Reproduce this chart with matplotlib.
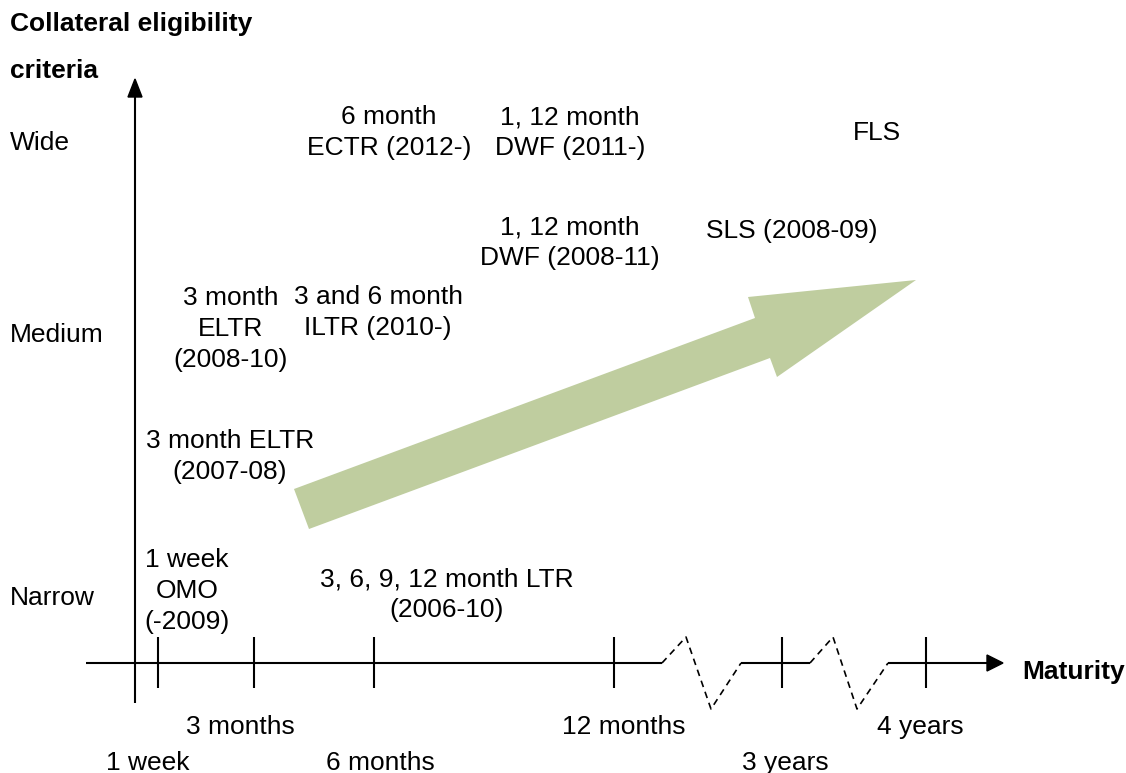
import matplotlib
matplotlib.use("Agg")
import matplotlib.pyplot as plt
from matplotlib.patches import Polygon

plt.rcParams['font.family'] = ['Liberation Sans', 'DejaVu Sans']

W, H = 1126, 773

# ---------------- data ----------------
criteria_levels = ["Wide", "Medium", "Narrow"]
criteria_y = [143, 335, 598]

maturity_labels = ["1 week", "3 months", "6 months", "12 months", "3 years", "4 years"]
maturity_ticks = [158, 254, 374, 614, 782, 926]
maturity_label_x = [148, 240, 380, 624, 785, 920]
maturity_label_row = [1, 0, 1, 0, 1, 0]

facility_labels = [
    "6 month\nECTR (2012-)",
    "1, 12 month\nDWF (2011-)",
    "FLS",
    "1, 12 month\nDWF (2008-11)",
    "SLS (2008-09)",
    "3 month\nELTR\n(2008-10)",
    "3 and 6 month\nILTR (2010-)",
    "3 month ELTR\n(2007-08)",
    "1 week\nOMO\n(-2009)",
    "3, 6, 9, 12 month LTR\n(2006-10)",
]
facility_x = [389, 570, 877, 570, 792, 231, 378, 230, 187, 447]
facility_y = [133, 133, 133, 243, 231, 329, 313, 456, 591, 595]

# -------------- figure ---------------
fig = plt.figure(figsize=(W / 100, H / 100), dpi=100)
ax = fig.add_axes([0, 0, 1, 1])
ax.set_xlim(0, W)
ax.set_ylim(H, 0)
ax.axis('off')

FS = 19
PITCH = 31
LW = 1.5
axis_y = 663

# y axis
ax.plot([135, 135], [703, 96], color='black', lw=LW, solid_capstyle='butt')
ax.add_patch(Polygon([[128, 97], [142, 97], [135, 79]], closed=True, color='black'))

# x axis with breaks
solid = [([86, 662], [axis_y, axis_y]), ([741, 810], [axis_y, axis_y]), ([888, 988], [axis_y, axis_y])]
for xs, ys in solid:
    ax.plot(xs, ys, color='black', lw=LW, solid_capstyle='butt')
dashed = [([662, 686, 711, 741], [axis_y, 637, 709, axis_y]),
          ([810, 833, 857, 888], [axis_y, 637, 709, axis_y])]
for xs, ys in dashed:
    ax.plot(xs, ys, color='black', lw=1.2, linestyle=(0, (4, 3)))
ax.add_patch(Polygon([[987, 655], [987, 671], [1003, axis_y]], closed=True, color='black'))

# ticks
for tx in maturity_ticks:
    ax.plot([tx, tx], [637, 688], color='black', lw=LW, solid_capstyle='butt')

# tick labels
row_y = [727, 763]
for lab, lx, r in zip(maturity_labels, maturity_label_x, maturity_label_row):
    ax.text(lx, row_y[r], lab, ha='center', va='center', fontsize=FS)

# criteria labels
for lab, ly in zip(criteria_levels, criteria_y):
    ax.text(10, ly, lab, ha='left', va='center', fontsize=FS)

# axis titles
ax.text(10, 24, "Collateral eligibility", ha='left', va='center', fontsize=FS, fontweight='bold')
ax.text(10, 71, "criteria", ha='left', va='center', fontsize=FS, fontweight='bold')
ax.text(1022, 672, "Maturity", ha='left', va='center', fontsize=FS, fontweight='bold')

# facility labels
for lab, fx, fy in zip(facility_labels, facility_x, facility_y):
    lines = lab.split("\n")
    n = len(lines)
    for i, line in enumerate(lines):
        ax.text(fx, fy + (i - (n - 1) / 2) * PITCH, line, ha='center', va='center', fontsize=FS)

# big green arrow
arrow = [[294, 489], [755, 318], [748, 297], [916, 280], [777, 377], [770, 358], [309, 529]]
ax.add_patch(Polygon(arrow, closed=True, facecolor='#bfcd9f', edgecolor='none'))

fig.savefig("out.png", dpi=100)
